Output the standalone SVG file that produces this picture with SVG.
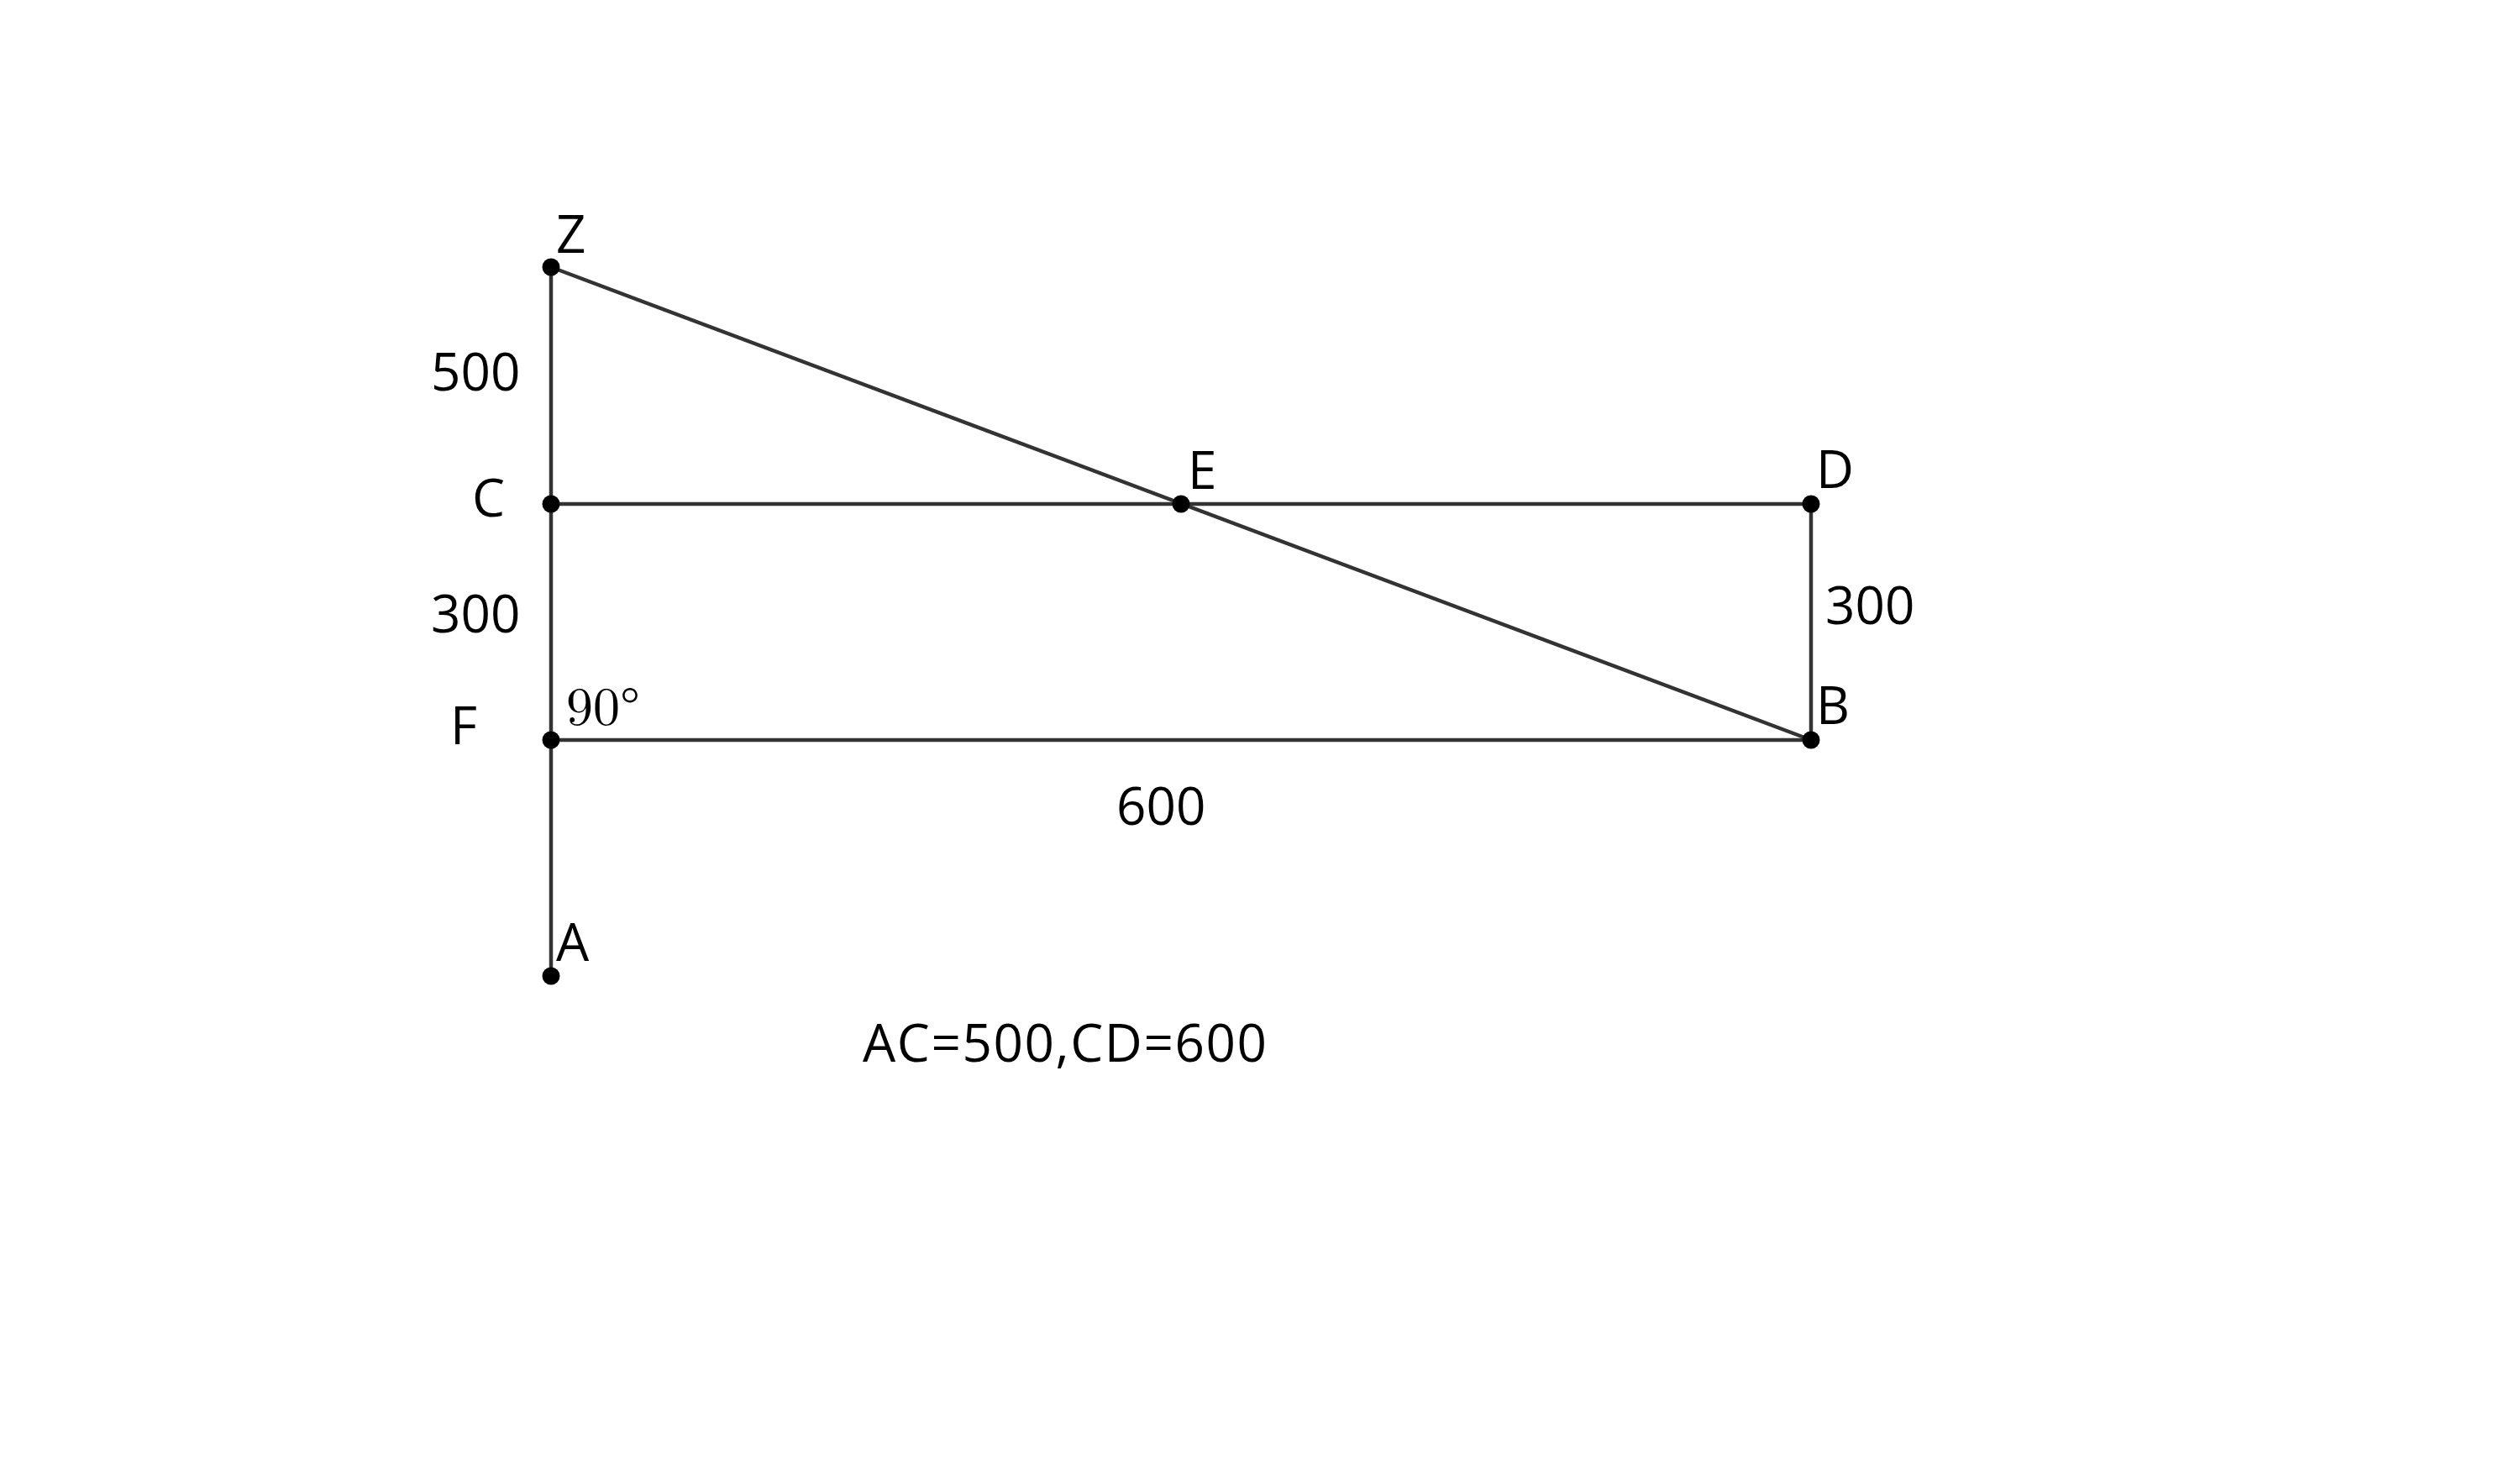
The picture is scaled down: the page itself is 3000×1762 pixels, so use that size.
<svg xmlns="http://www.w3.org/2000/svg" width="3000" height="1762" viewBox="0 0 3000 1762">
<style>
.ln{stroke:#333;stroke-width:4.5;fill:none;stroke-linecap:round}
.pt{fill:#000}
.t{font-family:"Open Sans","Noto Sans",sans-serif;font-size:62px;fill:#000}
.s{font-family:"Latin Modern Roman","DejaVu Serif","Liberation Serif",serif;font-size:64px;fill:#000}
</style>
<rect width="3000" height="1762" fill="#fff"/>
<g id="connectors">
<line class="ln" x1="656" y1="318" x2="656" y2="1162"/>
<line class="ln" x1="656" y1="600" x2="2156" y2="600"/>
<line class="ln" x1="656" y1="881" x2="2156" y2="881"/>
<line class="ln" x1="2156" y1="600" x2="2156" y2="881"/>
<line class="ln" x1="656" y1="318" x2="2156" y2="881"/>
</g>
<g id="Z"><circle class="pt" cx="656" cy="318" r="10.5"/><text class="t" x="662" y="301">Z</text></g>
<g id="C"><circle class="pt" cx="656" cy="600" r="10.5"/><text class="t" x="562" y="615">C</text></g>
<g id="F"><circle class="pt" cx="656" cy="881" r="10.5"/><text class="t" x="536" y="886">F</text></g>
<g id="A"><circle class="pt" cx="656" cy="1162" r="10.5"/><text class="t" x="662" y="1144">A</text></g>
<g id="E"><circle class="pt" cx="1406" cy="600" r="10.5"/><text class="t" x="1414" y="582">E</text></g>
<g id="D"><circle class="pt" cx="2156" cy="600" r="10.5"/><text class="t" x="2162" y="581">D</text></g>
<g id="B"><circle class="pt" cx="2156" cy="881" r="10.5"/><text class="t" x="2162" y="862">B</text></g>
<g id="labels">
<text class="t" x="513" y="465">500</text>
<text class="t" x="513" y="753">300</text>
<text class="t" x="2173" y="743">300</text>
<text class="t" x="1329" y="982">600</text>
<text class="s" x="674" y="863">90°</text>
<text class="t" x="1027" y="1264" textLength="481" lengthAdjust="spacing">AC=500,CD=600</text>
</g>
</svg>
